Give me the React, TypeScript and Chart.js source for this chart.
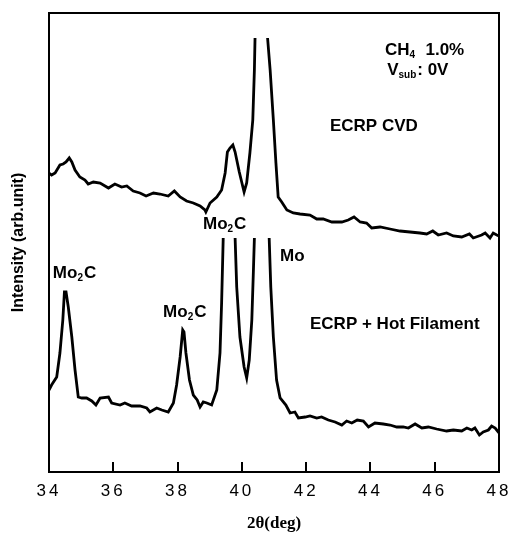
import React, { useEffect, useRef } from "react";
import { Chart, registerables } from "chart.js";

Chart.register(...registerables);

// 2θ (deg) and intensity (arb. unit) — upper trace: ECRP CVD
const upperX = [
  34.0, 34.08, 34.19, 34.34, 34.44, 34.53, 34.63, 34.71, 34.81, 34.96, 35.12, 35.22, 35.38, 35.59, 35.85,
  36.05, 36.26, 36.42, 36.62, 36.83, 37.02, 37.25, 37.45, 37.71, 37.9, 38.08, 38.28, 38.49, 38.7, 38.85,
  38.88, 39.01, 39.22, 39.37, 39.48, 39.55, 39.63, 39.72, 39.79, 39.92, 40.07, 40.15, 40.25, 40.34, 40.39,
  40.41, 40.6, 40.8, 40.88, 40.98, 41.06, 41.13, 41.24, 41.4, 41.6, 41.81, 42.12, 42.33, 42.53, 42.8,
  43.11, 43.31, 43.49, 43.68, 43.88, 44.04, 44.3, 44.61, 44.92, 45.23, 45.54, 45.75, 45.94, 46.11, 46.37,
  46.58, 46.84, 47.08, 47.2, 47.46, 47.57, 47.72, 47.82, 47.93, 48.0,
];
const upperY = [
  299, 297, 299, 307, 308, 310, 314, 310, 302, 295, 292, 288, 290, 289, 284,
  288, 285, 286, 281, 279, 276, 279, 278, 276, 281, 275, 271, 269, 266, 262,
  260, 269, 275, 282, 299, 320, 324, 327, 320, 300, 280, 289, 319, 352, 402,
  434, null, 434, 402, 352, 309, 275, 270, 262, 259, 258, 257, 253, 253, 250,
  250, 252, 255, 250, 249, 244, 245, 243, 241, 240, 239, 238, 241, 237, 239,
  236, 235, 238, 234, 237, 239, 234, 239, 237, 236,
];

// lower trace: ECRP + Hot Filament
const lowerX = [
  34.0, 34.08, 34.24, 34.34, 34.43, 34.48, 34.53, 34.6, 34.71, 34.81, 34.91, 35.02, 35.17, 35.33, 35.46,
  35.59, 35.85, 35.95, 36.21, 36.36, 36.57, 36.83, 37.04, 37.14, 37.35, 37.51, 37.71, 37.87, 37.97, 38.08,
  38.16, 38.2, 38.26, 38.37, 38.49, 38.61, 38.7, 38.8, 38.91, 39.06, 39.22, 39.32, 39.37, 39.42, 39.6,
  39.79, 39.84, 39.94, 40.07, 40.15, 40.23, 40.31, 40.36, 40.39, 40.6, 40.85, 40.9, 40.98, 41.08, 41.19,
  41.37, 41.5, 41.65, 41.76, 41.97, 42.12, 42.33, 42.48, 42.69, 42.9, 43.11, 43.26, 43.42, 43.59, 43.78,
  43.94, 44.14, 44.4, 44.61, 44.82, 45.02, 45.18, 45.39, 45.6, 45.8, 46.06, 46.37, 46.58, 46.84, 47.0,
  47.15, 47.25, 47.39, 47.51, 47.67, 47.77, 47.88, 47.98, 48.0,
];
const lowerY = [
  82, 87, 95, 119, 152, 180, 180, 165, 135, 102, 75, 74, 74, 71, 67,
  74, 75, 69, 67, 69, 66, 66, 64, 60, 64, 62, 60, 69, 87, 115,
  142, 140, 119, 92, 77, 72, 65, 70, 69, 67, 82, 119, 169, 234, null,
  234, 185, 135, 105, 94, 112, 152, 202, 234, null, 234, 185, 135, 92, 74,
  67, 59, 60, 54, 55, 56, 54, 55, 52, 50, 47, 51, 49, 52, 51,
  45, 49, 48, 47, 45, 45, 44, 48, 44, 45, 43, 41, 42, 41, 44,
  42, 44, 37, 40, 42, 46, 44, 40, 39,
];

const xTickValues = [34, 36, 38, 40, 42, 44, 46, 48];
const xMin = 34;
const xMax = 48;
const yMin = 0;
const yMax = 459;

const xTitle = "2θ(deg)";
const yTitle = "Intensity (arb.unit)";

// annotations: [text parts ([text, isSubscript]), x (deg), y (arb)]
const annotationParts: [string, boolean][][] = [
  [["CH", false], ["4", true], ["  1.0%", false]],
  [["V", false], ["sub", true], [": 0V", false]],
  [["ECRP CVD", false]],
  [["ECRP + Hot Filament", false]],
  [["Mo", false], ["2", true], ["C", false]],
  [["Mo", false], ["2", true], ["C", false]],
  [["Mo", false], ["2", true], ["C", false]],
  [["Mo", false]],
];
const annotationX = [44.45, 44.52, 42.74, 42.12, 38.79, 34.12, 37.55, 41.19];
const annotationY = [423, 403, 347, 149, 249, 200, 161, 217];

const FONT = '"Liberation Sans", Arial, sans-serif';

function drawRich(ctx: CanvasRenderingContext2D, parts: [string, boolean][], x: number, y: number, size: number) {
  let cx = x;
  const base = y + size * 0.36;
  ctx.textAlign = "left";
  ctx.textBaseline = "alphabetic";
  for (const [t, sub] of parts) {
    const s = sub ? Math.round(size * 0.6) : size;
    ctx.font = `bold ${s}px ${FONT}`;
    ctx.fillText(t, cx, sub ? base + size * 0.18 : base);
    cx += ctx.measureText(t).width + (sub ? 1 : 0);
  }
}

const framePlugin = {
  id: "frame",
  beforeDraw(chart: any) {
    const xs: any = chart.scales.x;
    if (xs && !xs.__ls) {
      const orig = xs.drawLabels;
      xs.drawLabels = function (ca: any) {
        const c = this.ctx;
        c.save();
        (c as any).letterSpacing = "3px";
        orig.call(this, ca);
        c.restore();
      };
      xs.__ls = true;
    }
  },
  afterDraw(chart: any) {
    const { ctx, chartArea } = chart;
    const xs = chart.scales.x;
    const ys = chart.scales.y;
    ctx.save();
    ctx.strokeStyle = "#000";
    ctx.lineWidth = 2;
    ctx.strokeRect(chartArea.left, chartArea.top, chartArea.right - chartArea.left, chartArea.bottom - chartArea.top);
    ctx.beginPath();
    for (const v of xTickValues) {
      if (v === xMin || v === xMax) continue;
      const px = Math.round(xs.getPixelForValue(v));
      ctx.moveTo(px, chartArea.bottom);
      ctx.lineTo(px, chartArea.bottom - 10);
    }
    ctx.stroke();
    ctx.fillStyle = "#000";
    annotationParts.forEach((parts, i) => {
      drawRich(ctx, parts, xs.getPixelForValue(annotationX[i]), ys.getPixelForValue(annotationY[i]), 17);
    });
    ctx.restore();
  },
};

export default function App() {
  const ref = useRef<HTMLCanvasElement | null>(null);
  useEffect(() => {
    if (!ref.current) return;
    const chart = new Chart(ref.current, {
      type: "line",
      data: {
        datasets: [
          {
            label: "ECRP CVD",
            data: upperX.map((x, i) => ({ x, y: upperY[i] })) as any,
            borderColor: "#000",
            borderWidth: 2.8,
            pointRadius: 0,
            tension: 0,
            spanGaps: false,
          },
          {
            label: "ECRP + Hot Filament",
            data: lowerX.map((x, i) => ({ x, y: lowerY[i] })) as any,
            borderColor: "#000",
            borderWidth: 2.8,
            pointRadius: 0,
            tension: 0,
            spanGaps: false,
          },
        ],
      },
      options: {
        animation: false,
        responsive: false,
        devicePixelRatio: 1,
        layout: { padding: { left: 0, top: 13, right: 13, bottom: 0 } },
        plugins: { legend: { display: false }, tooltip: { enabled: false } },
        scales: {
          x: {
            type: "linear",
            min: xMin,
            max: xMax,
            afterBuildTicks: (s: any) => {
              s.ticks = xTickValues.map((v) => ({ value: v }));
            },
            afterFit: (s: any) => {
              s.height = 62;
              s.paddingLeft = 0;
              s.paddingRight = 0;
            },
            grid: { display: false, drawTicks: false },
            border: { display: false },
            ticks: {
              color: "#000",
              padding: 9,
              maxRotation: 0,
              autoSkip: false,
              font: { family: FONT, size: 17 },
              callback: (v: any) => String(v),
            },
            title: {
              display: true,
              text: xTitle,
              color: "#000",
              padding: { top: 0, bottom: 0 },
              font: { family: '"Liberation Serif", "Times New Roman", serif', size: 17, weight: "bold" },
            },
          },
          y: {
            type: "linear",
            min: yMin,
            max: yMax,
            afterFit: (s: any) => {
              s.width = 49;
              s.paddingTop = 0;
              s.paddingBottom = 0;
            },
            grid: { display: false, drawTicks: false },
            border: { display: false },
            ticks: { display: false },
            title: {
              display: true,
              text: yTitle,
              color: "#000",
              padding: { top: 9, bottom: 0 },
              font: { family: FONT, size: 16, weight: "bold" },
            },
          },
        },
      },
      plugins: [framePlugin],
    });
    return () => chart.destroy();
  }, []);
  return (
    <div style={{ position: "fixed", left: 0, top: 0, width: 512, height: 534, background: "#fff" }}>
      <canvas ref={ref} width={512} height={534} style={{ display: "block" }} />
    </div>
  );
}
